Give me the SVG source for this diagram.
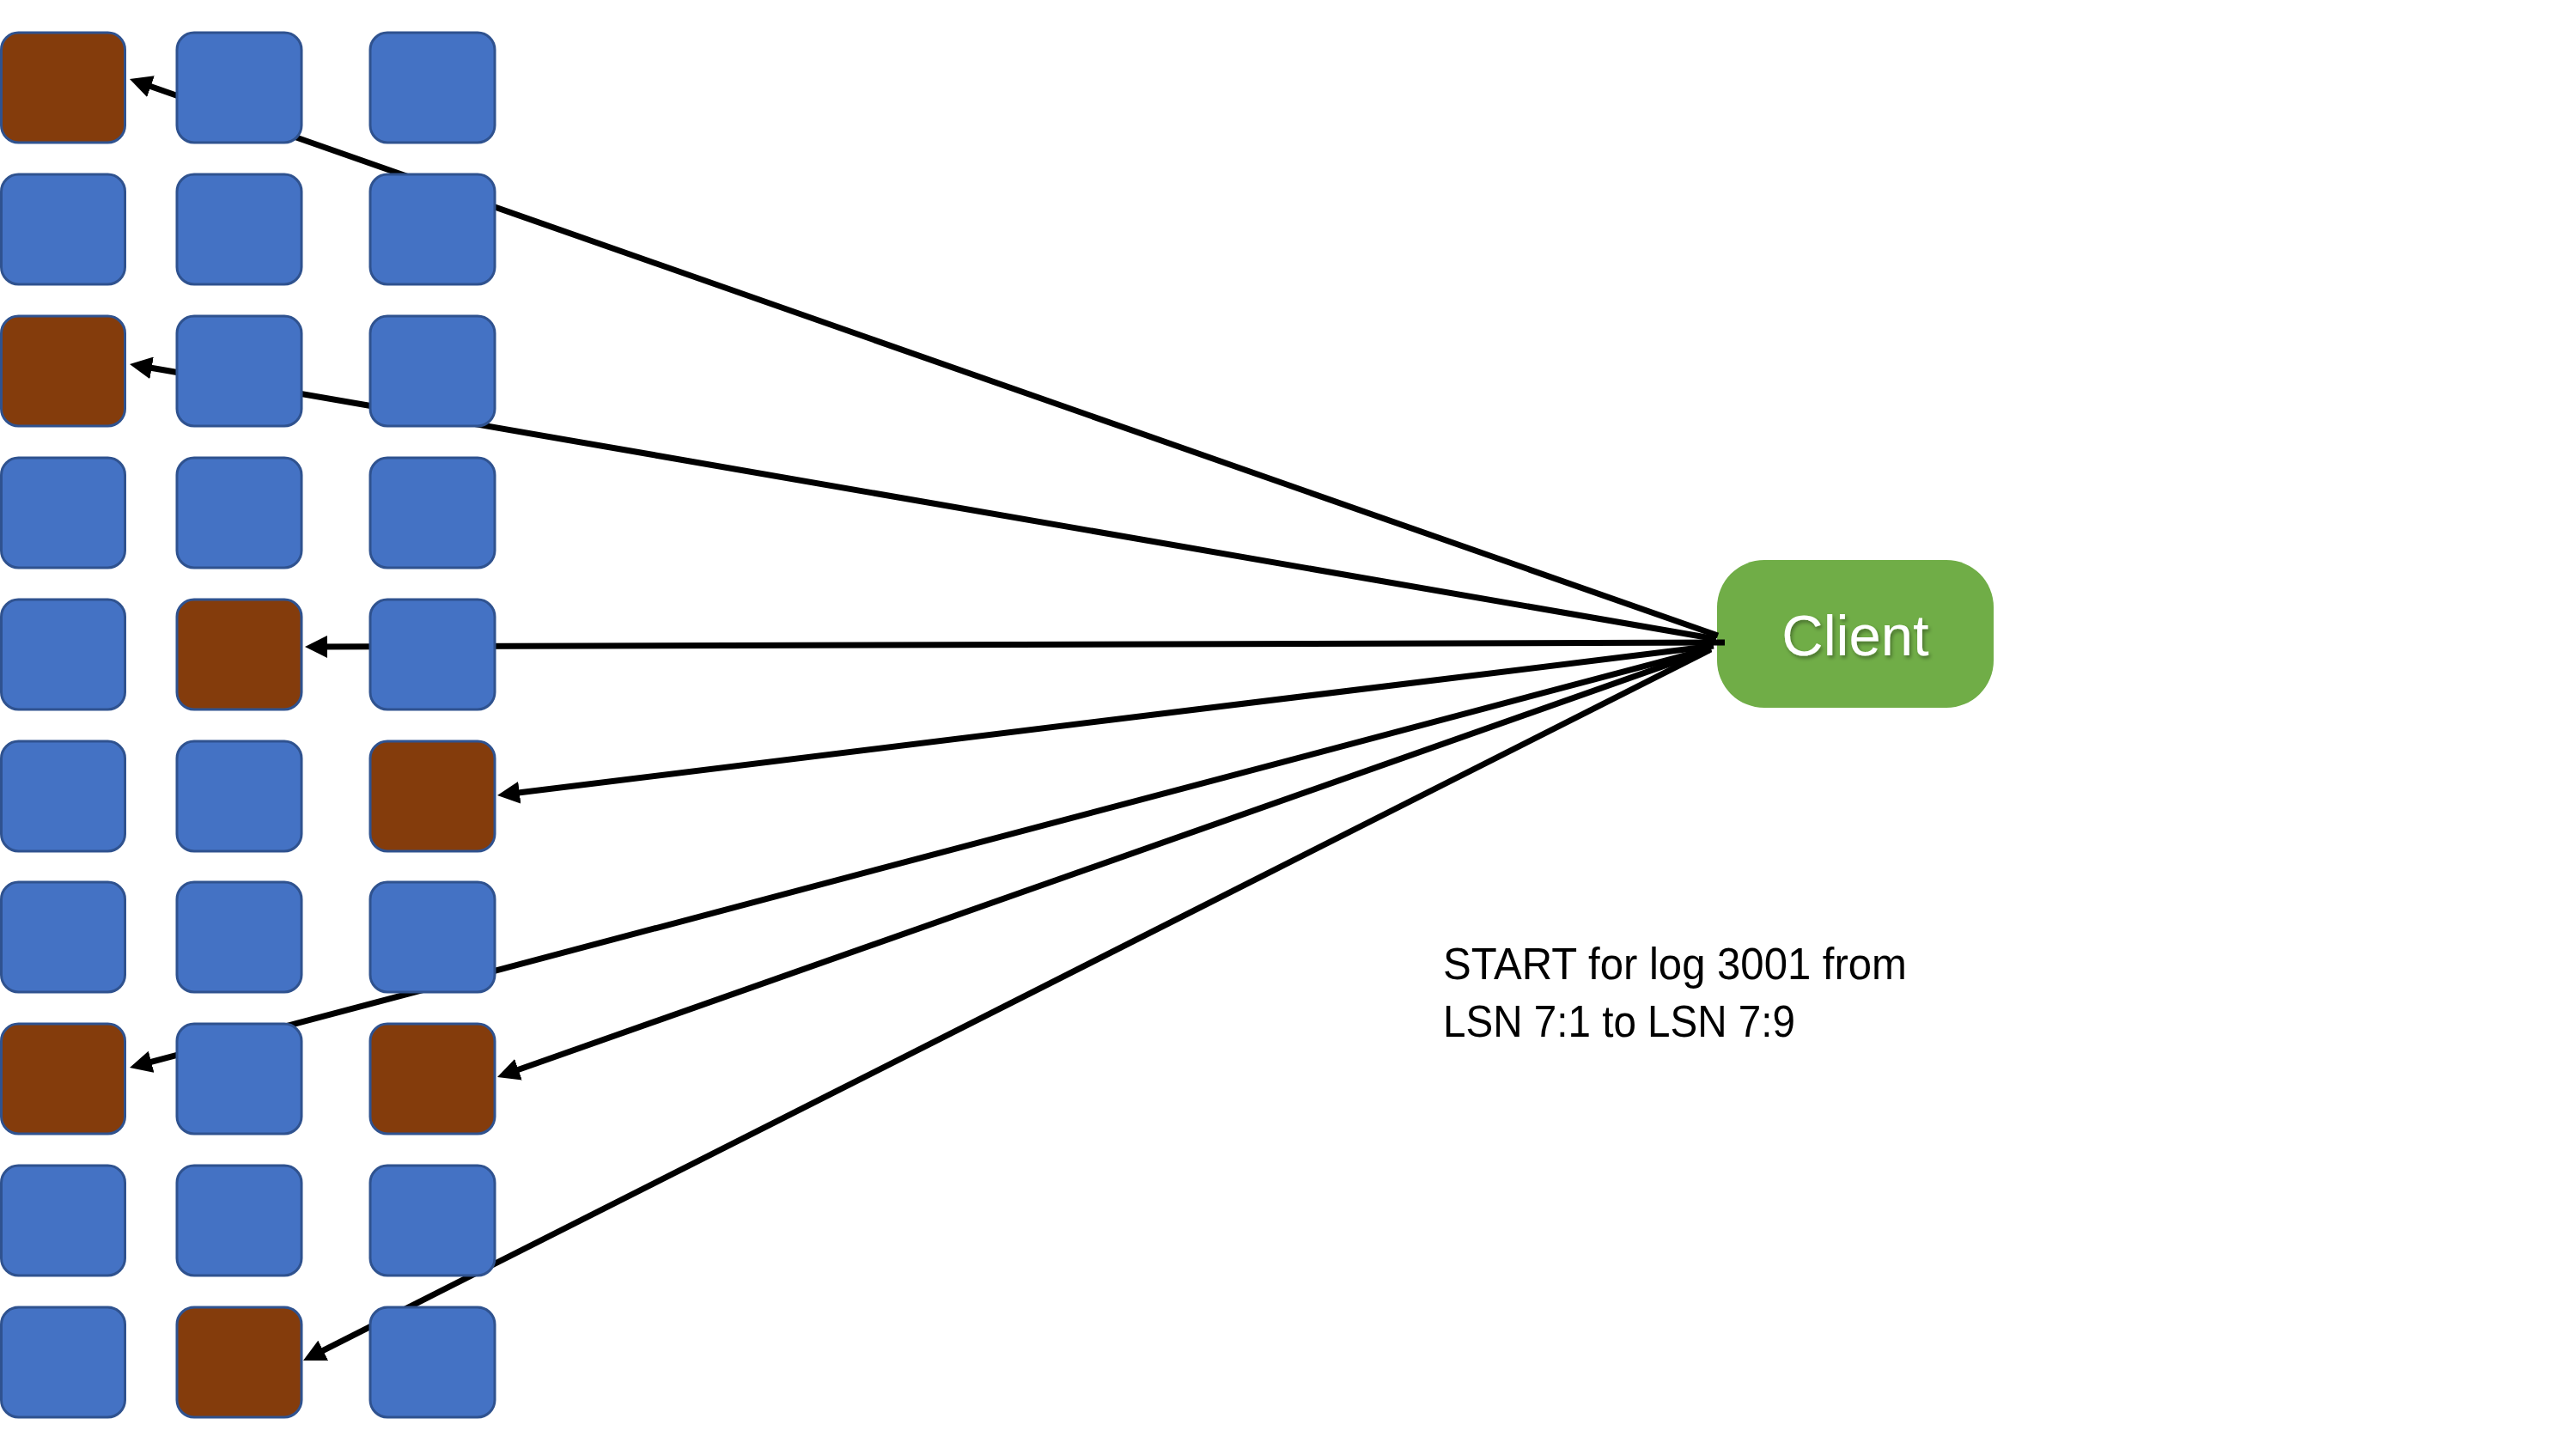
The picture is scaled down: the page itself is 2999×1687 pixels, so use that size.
<svg xmlns="http://www.w3.org/2000/svg" width="2999" height="1687" viewBox="0 0 2999 1687">
<style>
.b{fill:#4472C4;stroke:#2F528F;stroke-width:3}
.r{fill:#843C0C;stroke:#2F528F;stroke-width:3}
.c{fill:none;stroke:#000;stroke-width:7;marker-end:url(#ah)}
.lbl{font-family:"Liberation Sans",Arial,sans-serif;font-size:52px;fill:#000}
.ct{font-family:"Liberation Sans",Arial,sans-serif;font-size:67px;fill:#fff}
</style>
<defs>
<marker id="ah" markerUnits="userSpaceOnUse" viewBox="0 0 26 26" markerWidth="26" markerHeight="26" refX="14" refY="13" orient="auto">
<path d="M0,0 L26,13 L0,26 z" fill="#000"/>
</marker>
<filter id="sh" x="-10%" y="-10%" width="130%" height="140%">
<feDropShadow dx="2" dy="3" stdDeviation="2" flood-color="#000" flood-opacity="0.35"/>
</filter>
</defs>
<rect width="2999" height="1687" fill="#fff"/>
<g id="client">
<rect x="1999" y="652" width="322" height="172" rx="55" fill="#70AD47"/>
<text class="ct" x="2160" y="763" text-anchor="middle" filter="url(#sh)">Client</text>
</g>
<g id="connectors">
<path class="c" d="M2000,740 L162.3,96"/>
<path class="c" d="M1998,744 L162.8,426"/>
<path class="c" d="M2008,748 L367,753"/>
<path class="c" d="M1995,752 L590.9,924.5"/>
<path class="c" d="M1992,755 L162.6,1239.9"/>
<path class="c" d="M1992,756 L590.3,1250"/>
<path class="c" d="M1990,757 L363.7,1578.6"/>
</g>
<g id="n1-1"><rect class="r" x="1.5" y="38" width="144" height="128" rx="20"/></g>
<g id="n1-2"><rect class="b" x="206" y="38" width="145" height="128" rx="20"/></g>
<g id="n1-3"><rect class="b" x="431" y="38" width="145" height="128" rx="20"/></g>
<g id="n2-1"><rect class="b" x="1.5" y="203" width="144" height="128" rx="20"/></g>
<g id="n2-2"><rect class="b" x="206" y="203" width="145" height="128" rx="20"/></g>
<g id="n2-3"><rect class="b" x="431" y="203" width="145" height="128" rx="20"/></g>
<g id="n3-1"><rect class="r" x="1.5" y="368" width="144" height="128" rx="20"/></g>
<g id="n3-2"><rect class="b" x="206" y="368" width="145" height="128" rx="20"/></g>
<g id="n3-3"><rect class="b" x="431" y="368" width="145" height="128" rx="20"/></g>
<g id="n4-1"><rect class="b" x="1.5" y="533" width="144" height="128" rx="20"/></g>
<g id="n4-2"><rect class="b" x="206" y="533" width="145" height="128" rx="20"/></g>
<g id="n4-3"><rect class="b" x="431" y="533" width="145" height="128" rx="20"/></g>
<g id="n5-1"><rect class="b" x="1.5" y="698" width="144" height="128" rx="20"/></g>
<g id="n5-2"><rect class="r" x="206" y="698" width="145" height="128" rx="20"/></g>
<g id="n5-3"><rect class="b" x="431" y="698" width="145" height="128" rx="20"/></g>
<g id="n6-1"><rect class="b" x="1.5" y="863" width="144" height="128" rx="20"/></g>
<g id="n6-2"><rect class="b" x="206" y="863" width="145" height="128" rx="20"/></g>
<g id="n6-3"><rect class="r" x="431" y="863" width="145" height="128" rx="20"/></g>
<g id="n7-1"><rect class="b" x="1.5" y="1027" width="144" height="128" rx="20"/></g>
<g id="n7-2"><rect class="b" x="206" y="1027" width="145" height="128" rx="20"/></g>
<g id="n7-3"><rect class="b" x="431" y="1027" width="145" height="128" rx="20"/></g>
<g id="n8-1"><rect class="r" x="1.5" y="1192" width="144" height="128" rx="20"/></g>
<g id="n8-2"><rect class="b" x="206" y="1192" width="145" height="128" rx="20"/></g>
<g id="n8-3"><rect class="r" x="431" y="1192" width="145" height="128" rx="20"/></g>
<g id="n9-1"><rect class="b" x="1.5" y="1357" width="144" height="128" rx="20"/></g>
<g id="n9-2"><rect class="b" x="206" y="1357" width="145" height="128" rx="20"/></g>
<g id="n9-3"><rect class="b" x="431" y="1357" width="145" height="128" rx="20"/></g>
<g id="n10-1"><rect class="b" x="1.5" y="1522" width="144" height="128" rx="20"/></g>
<g id="n10-2"><rect class="r" x="206" y="1522" width="145" height="128" rx="20"/></g>
<g id="n10-3"><rect class="b" x="431" y="1522" width="145" height="128" rx="20"/></g>
<g id="label">
<text class="lbl" x="1680" y="1140" textLength="540" lengthAdjust="spacingAndGlyphs">START for log 3001 from</text>
<text class="lbl" x="1680" y="1207" textLength="410" lengthAdjust="spacingAndGlyphs">LSN 7:1 to LSN 7:9</text>
</g>
</svg>
